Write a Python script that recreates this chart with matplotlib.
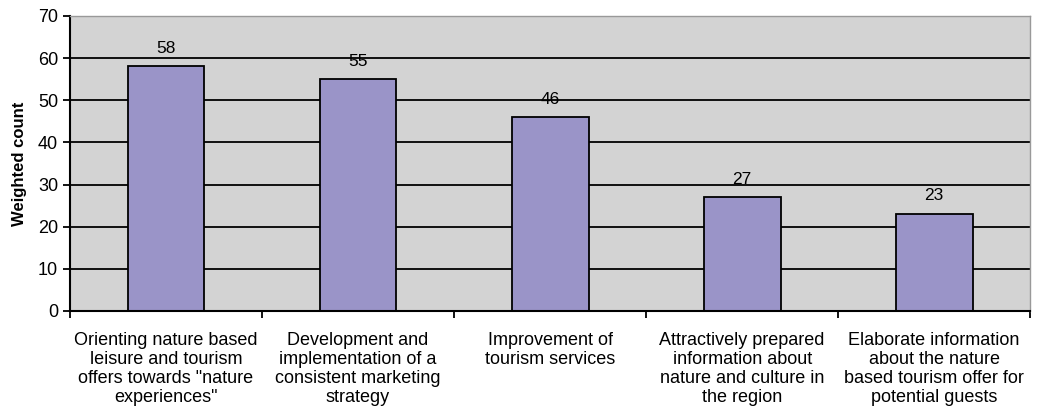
import numpy as np
from matplotlib import pyplot as plt

categories = ['Orienting nature based\nleisure and tourism\noffers towards "nature\nexperiences"',
              'Development and\nimplementation of a\nconsistent marketing\nstrategy',
              'Improvement of\ntourism services',
              'Attractively prepared\ninformation about\nnature and culture in\nthe region',
              'Elaborate information\nabout the nature\nbased tourism offer for\npotential guests']
values = [58, 55, 46, 27, 23]

plt.rcParams['font.family'] = ['Liberation Sans', 'DejaVu Sans']

fig = plt.figure(figsize=(10.46, 4.18), dpi=100)
ax = fig.add_axes([0.0669, 0.256, 0.918, 0.706])
ax.set_facecolor('#d3d3d3')

x = np.arange(len(values))
ax.set_axisbelow(True)
ax.yaxis.grid(True, color='black', linewidth=1.3)
ax.bar(x, values, width=0.4, color='#9a94c8', edgecolor='black', linewidth=1.3)
for xi, v in zip(x, values):
    ax.text(xi, v + 2.5, str(v), ha='center', va='bottom', fontsize=12.5)

ax.set_xlim(-0.5, len(values) - 0.5)
ax.set_ylim(0, 70)
ax.set_yticks(range(0, 71, 10))
ax.set_xticks(x)
ax.set_xticklabels(categories, fontsize=13, linespacing=1.17)
ax.set_xticks(np.arange(-0.5, len(values), 1), minor=True)
ax.tick_params(axis='x', which='major', length=0, pad=15)
ax.tick_params(axis='x', which='minor', length=5, width=1.3, direction='out')
ax.tick_params(axis='y', length=5, width=1.3, labelsize=13)
ax.set_ylabel('Weighted count', fontsize=12, fontweight='bold', labelpad=8)

for s in ['left', 'bottom']:
    ax.spines[s].set_linewidth(1.5)
for s in ['top', 'right']:
    ax.spines[s].set_color('#999999')
    ax.spines[s].set_linewidth(1)

fig.savefig('out.png', dpi=100)
